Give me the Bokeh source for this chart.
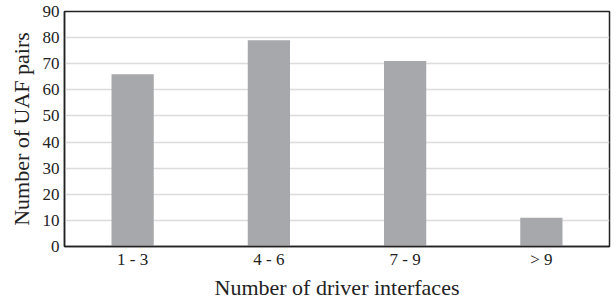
from bokeh.plotting import figure
from bokeh.embed import file_html
from bokeh.resources import INLINE
from bokeh.models import ColumnDataSource, FixedTicker

categories = ["1 - 3", "4 - 6", "7 - 9", "> 9"]
counts = [66, 79, 71, 11]
y_ticks = [0, 10, 20, 30, 40, 50, 60, 70, 80, 90]

src = ColumnDataSource(data=dict(cat=categories, val=counts))

p = figure(x_range=categories, y_range=(0, 90),
           frame_width=545, frame_height=235,
           output_backend="svg", toolbar_location=None,
           min_border_left=64, min_border_right=5, min_border_top=11, min_border_bottom=48)

p.vbar(x="cat", top="val", width=0.31, source=src, color="#a7a8ab", line_color=None)

font = "Liberation Serif"
p.outline_line_color = "#222222"
p.outline_line_width = 1.5
p.xgrid.grid_line_color = None
p.ygrid.grid_line_color = "#dcdcdc"
p.ygrid.grid_line_width = 1.5
p.yaxis.ticker = FixedTicker(ticks=y_ticks)

for ax in (p.xaxis[0], p.yaxis[0]):
    ax.axis_line_color = "#222222"
    ax.axis_line_width = 1.5
    ax.major_tick_line_color = None
    ax.minor_tick_line_color = None
    ax.major_tick_out = 0
    ax.major_tick_in = 0
    ax.minor_tick_out = 0
    ax.minor_tick_in = 0
    ax.major_label_text_font = font
    ax.major_label_text_font_size = "17px"
    ax.major_label_text_color = "#222222"
    ax.axis_label_text_font = font
    ax.axis_label_text_font_size = "22px"
    ax.axis_label_text_font_style = "normal"
    ax.axis_label_text_color = "#222222"

p.xaxis.axis_label = "Number of driver interfaces"
p.yaxis.axis_label = "Number of UAF pairs"
p.xaxis.major_label_standoff = 3
p.yaxis.major_label_standoff = 5
p.xaxis.axis_label_standoff = 3
p.yaxis.axis_label_standoff = 6
p.background_fill_color = "white"
p.border_fill_color = "white"

open("out.html", "w").write(file_html(p, INLINE))
